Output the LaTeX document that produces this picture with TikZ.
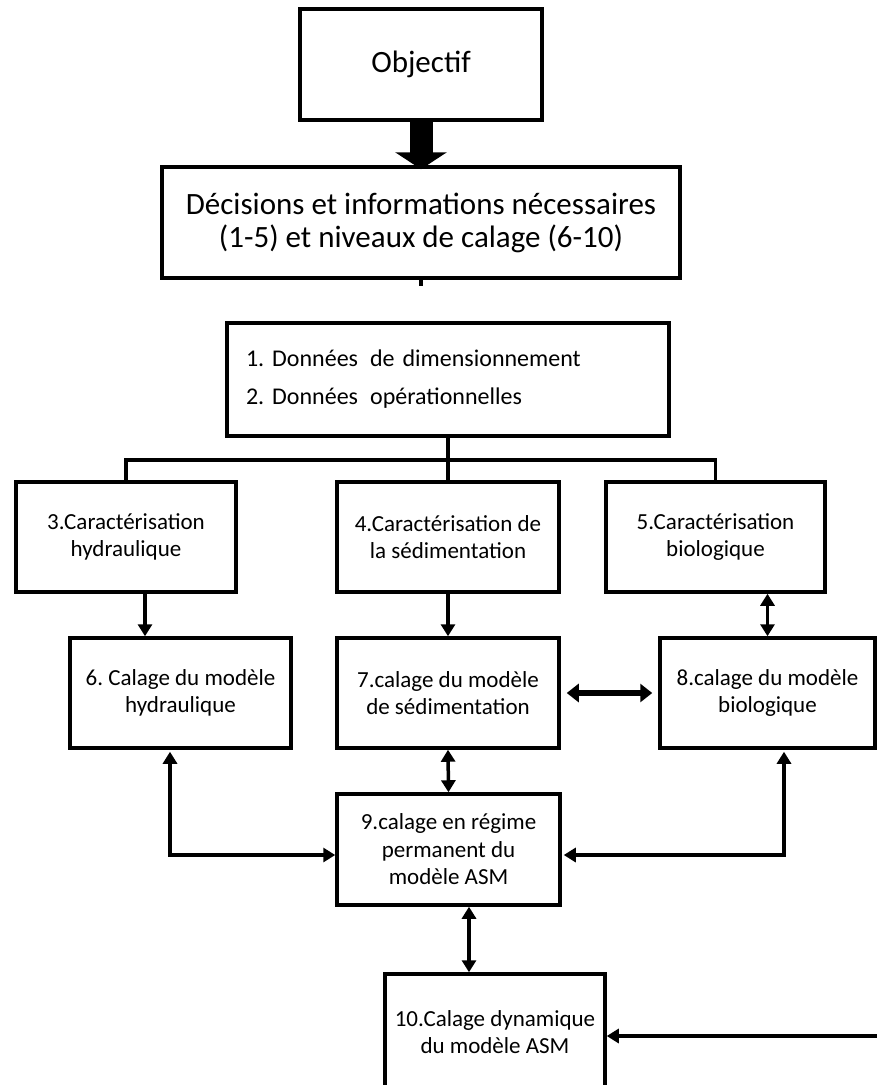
\documentclass[tikz,border=0pt]{standalone}
\usepackage{fontspec}
\setmainfont{Carlito}
\frenchspacing
\usetikzlibrary{arrows.meta,calc}
\tikzset{
  box/.style={draw, line width=3.5pt, inner sep=0pt, align=center, font=\fontsize{23}{27.5}\selectfont},
  big/.style={font=\fontsize{31}{33}\selectfont},
  conn/.style={line width=3.5pt},
  arr/.style={conn, -{Triangle[width=14pt,length=12pt]}},
  darr/.style={conn, {Triangle[width=14pt,length=12pt]}-{Triangle[width=14pt,length=12pt]}},
  thickdarr/.style={line width=6pt, {Triangle[width=18pt,length=12pt]}-{Triangle[width=18pt,length=12pt]}},
}
\begin{document}
\begin{tikzpicture}[x=1pt,y=-1pt]
\useasboundingbox (0,0) rectangle (877,1085);
\fill[white] (0,0) rectangle (877,1085);

% boxes
\node[box,big,minimum width=242pt,minimum height=111pt] (obj) at (421,64.5) {Objectif};
\node[box,big,minimum width=518pt,minimum height=111pt] (dec) at (421,222.5)
  {Décisions et informations nécessaires\\(1-5) et niveaux de calage (6-10)};
\node[box,minimum width=442pt,minimum height=113pt,align=left,text width=404pt,
      font=\fontsize{24}{38}\selectfont] (d12) at (448,379.5)
  {1. Données\hspace{4pt} de dimensionnement\\2. Données\hspace{4pt} opérationnelles};
\node[box,minimum width=220pt,minimum height=110pt] (b3) at (126,537) {3.Caractérisation\\hydraulique};
\node[box,minimum width=222pt,minimum height=110pt] (b4) at (448,537) {4.Caractérisation de\\la sédimentation};
\node[box,minimum width=219pt,minimum height=110pt] (b5) at (715.5,537) {5.Caractérisation\\biologique};
\node[box,minimum width=221pt,minimum height=110pt] (b6) at (180.5,693) {6. Calage du modèle\\hydraulique};
\node[box,minimum width=222pt,minimum height=110pt] (b7) at (448,693) {7.calage du modèle\\de sédimentation};
\node[box,minimum width=215pt,minimum height=110pt] (b8) at (767.5,693) {8.calage du modèle\\biologique};
\node[box,minimum width=223pt,minimum height=111pt] (b9) at (448.5,849.5) {9.calage en régime\\permanent du\\modèle ASM};
\node[box,minimum width=220pt,minimum height=116pt] (b10) at (495,1032) {10.Calage dynamique\\du modèle ASM};

% big arrow
\draw[line width=23pt, -{Triangle[width=51pt,length=17pt]}, shorten >=-4pt] (obj.south) -- (dec.north);
\draw[conn] (dec.south) -- ++(0,6) coordinate (tick);

% tree
\draw[conn] (d12.south) -- ++(0,22) coordinate (j);
\draw[conn] (b3.north) |- (j) -| (b5.north);
\draw[conn] (j) -- (b4.north);

% row arrows
\coordinate (a3) at ($(b3.south)+(19,0)$);
\draw[arr] (a3) -- (a3 |- b6.north);
\draw[arr] (b4.south) -- (b7.north);
\draw[darr] (b8.north |- b5.south) -- (b8.north);
\draw[thickdarr, shorten <=6pt, shorten >=6pt] (b7.east) -- (b8.west);

% to box 9
\coordinate (u6) at ($(b6.south)+(-10.5,0)$);
\coordinate (l9) at ($(b9.west)+(0,5.5)$);
\draw[darr, shorten <=2pt] (u6) |- (l9);
\coordinate (u8) at ($(b8.south)+(16.5,0)$);
\coordinate (r9) at ($(b9.east)+(0,5.5)$);
\draw[darr, shorten <=2pt, shorten >=2pt] (u8) |- (r9);
\draw[darr] (b7.south) -- (b9.north);
\coordinate (d9) at ($(b9.south)+(20.5,0)$);
\draw[darr] (d9) -- (d9 |- b10.north);
\coordinate (e10) at (877,1036);
\draw[arr] (e10) -- (e10 -| b10.east);
\end{tikzpicture}
\end{document}
